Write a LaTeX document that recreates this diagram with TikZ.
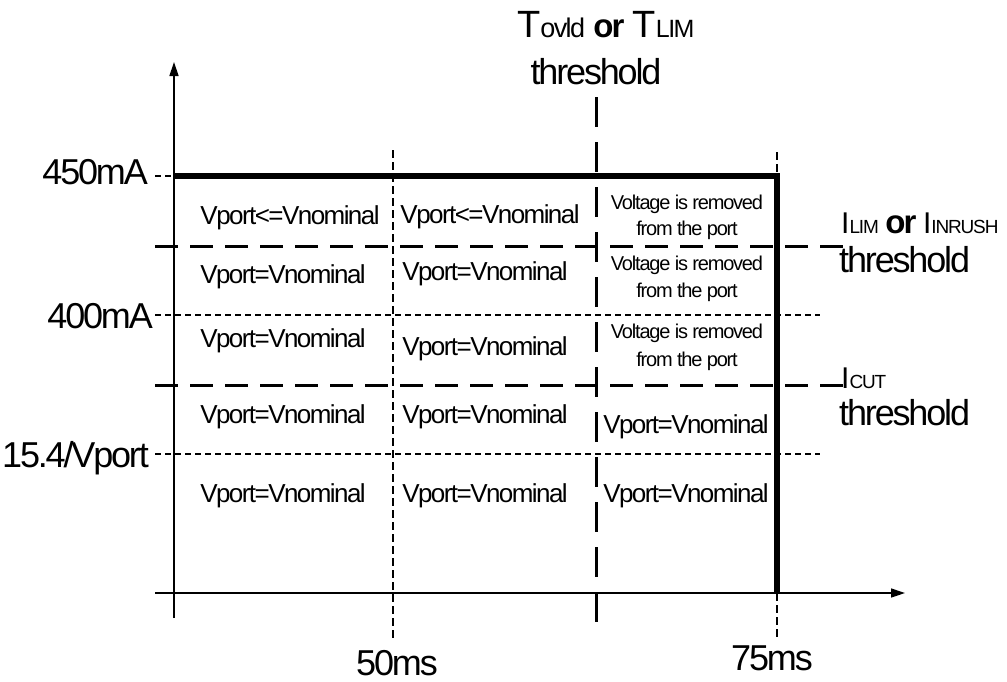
\documentclass[tikz,border=0pt]{standalone}
\usepackage{fontspec}
\setmainfont{Liberation Sans}[LetterSpace=-6]
\usetikzlibrary{arrows.meta}
\begin{document}
\begin{tikzpicture}[x=1pt,y=-1pt,
  cell/.style={font=\fontsize{26}{30}\selectfont, anchor=base, inner sep=0pt},
  small/.style={font=\fontsize{20}{24}\selectfont, anchor=base, inner sep=0pt},
  big/.style={font=\fontsize{36}{40}\selectfont, inner sep=0pt},
  axisline/.style={line width=1.4pt, -{Triangle[length=14pt,width=9pt]}},
  limitline/.style={line width=6pt},
  longdash/.style={line width=3pt, dash pattern=on 23pt off 12pt},
  shortdash/.style={line width=2.6pt, dash pattern=on 6pt off 4pt},
  vshort/.style={line width=2.6pt, dash pattern=on 8pt off 4pt},
  vlong/.style={line width=3pt, dash pattern=on 30pt off 15pt}]
\useasboundingbox (0,0) rectangle (1007,681);

% coordinates
\coordinate (yb) at (174,618);
\coordinate (yt) at (174,62);
\coordinate (xl) at (155,593);
\coordinate (xr) at (905,593);
\coordinate (p0) at (174,176);
\coordinate (p1) at (777,176);
\coordinate (p2) at (777,593);

% horizontal threshold lines
\coordinate (t450a) at (155,176);
\coordinate (ilimA) at (155,246);
\coordinate (ilimB) at (852,246);
\coordinate (m400A) at (155,315);
\coordinate (m400B) at (820,315);
\coordinate (icutA) at (155,385);
\coordinate (icutB) at (852,385);
\coordinate (v154A) at (155,454);
\coordinate (v154B) at (820,454);
\draw[shortdash] (t450a) -- (p0);
\draw[longdash] (ilimA) -- (ilimB);
\draw[shortdash] (m400A) -- (m400B);
\draw[longdash] (icutA) -- (icutB);
\draw[shortdash] (v154A) -- (v154B);

% vertical lines
\coordinate (v50a) at (393,150);
\coordinate (v50b) at (393,640);
\coordinate (tova) at (596,97);
\coordinate (tovb) at (596,632);
\coordinate (v75a) at (777,152);
\coordinate (v75b) at (777,640);
\draw[vshort] (v50a) -- (v50b);
\draw[vlong] (tova) -- (tovb);
\draw[vshort] (v75a) -- (p1);
\draw[vshort] (p2) -- (v75b);

% axes
\draw[axisline] (yb) -- (yt);
\draw[axisline] (xl) -- (xr);

% limit
\draw[limitline, line join=miter] (p0) -- (p1) -- (p2);

% axis labels
\node[big, anchor=base east] (l450) at (148,184) {450mA};
\node[big, anchor=base east] (l400) at (153,328) {400mA};
\node[big, anchor=base east] (l154) at (149,467) {15.4/Vport};
\node[big, anchor=base] (l50) at (397,675) {50ms};
\node[big, anchor=base] (l75) at (772,670) {75ms};

% top label
\node[inner sep=0pt, anchor=base west, font=\fontsize{38}{40}\selectfont] (tovld) at (517,37)
  {T{\fontsize{27}{30}\selectfont ovld} {\fontsize{33}{36}\selectfont\bfseries or} T{\fontsize{25}{30}\selectfont LIM}};
\node[big, anchor=base] (tthr) at (596,84) {threshold};

% right labels
\node[inner sep=0pt, anchor=base west, font=\fontsize{30}{32}\selectfont] (ilim) at (841,233)
  {I{\fontsize{19}{22}\selectfont LIM} {\fontsize{33}{36}\selectfont\bfseries or} I{\fontsize{19}{22}\selectfont INRUSH}};
\node[big, anchor=base west] (ithr) at (839,272) {threshold};
\node[inner sep=0pt, anchor=base west, font=\fontsize{30}{32}\selectfont] (icut) at (841,388)
  {I{\fontsize{19}{22}\selectfont CUT}};
\node[big, anchor=base west] (cthr) at (839,425) {threshold};

% cells
\node[cell] (c11) at (290,224) {Vport<=Vnominal};
\node[cell] (c12) at (490,223) {Vport<=Vnominal};
\node[small] (c13a) at (687,209) {Voltage is removed};
\node[small] (c13b) at (687,235) {from the port};
\node[cell] (c21) at (283,283) {Vport=Vnominal};
\node[cell] (c22) at (485,280) {Vport=Vnominal};
\node[small] (c23a) at (687,270) {Voltage is removed};
\node[small] (c23b) at (687,297) {from the port};
\node[cell] (c31) at (283,347) {Vport=Vnominal};
\node[cell] (c32) at (485,355) {Vport=Vnominal};
\node[small] (c33a) at (687,338) {Voltage is removed};
\node[small] (c33b) at (687,366) {from the port};
\node[cell] (c41) at (283,423) {Vport=Vnominal};
\node[cell] (c42) at (485,423) {Vport=Vnominal};
\node[cell] (c43) at (686,433) {Vport=Vnominal};
\node[cell] (c51) at (283,502) {Vport=Vnominal};
\node[cell] (c52) at (485,502) {Vport=Vnominal};
\node[cell] (c53) at (686,502) {Vport=Vnominal};
\end{tikzpicture}
\end{document}
